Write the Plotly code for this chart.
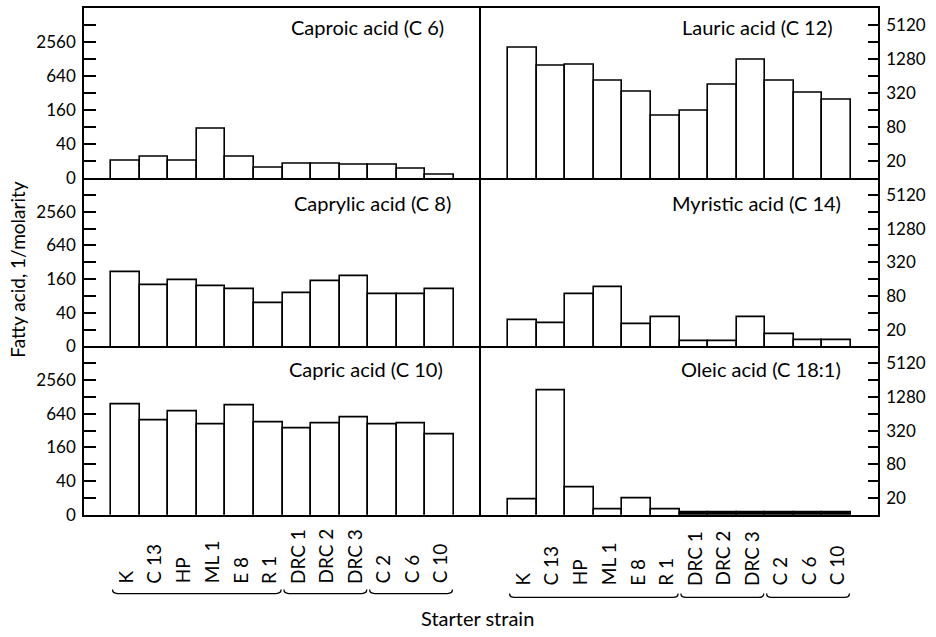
import math
import plotly.graph_objects as go

# Starter strains (bar categories, same order in every panel)
strains = ["K", "C 13", "HP", "ML 1", "E 8", "R 1",
           "DRC 1", "DRC 2", "DRC 3", "C 2", "C 6", "C 10"]

# Fatty acid levels, 1/molarity
caproic = [20, 24, 20, 73, 23.5, 15.5, 18, 18, 17.5, 17.5, 14.7, 11.6]
caprylic = [215, 123, 155, 120, 105, 59, 90, 147, 180, 87, 87, 108]
capric = [937, 480, 716, 420, 900, 450, 353, 437, 557, 408, 425, 274]
lauric = [1980, 985, 1000, 523, 329, 124, 155, 446, 1230, 523, 316, 246]
myristic = [30, 26, 85, 115, 25.5, 33, 12.7, 12.7, 34, 16.4, 13, 13]
oleic = [19, 1690, 31, 12.7, 19.2, 12.6, 10.8, 10.8, 10.8, 10.8, 10.8, 10.8]

panel_titles = ["Caproic acid (C 6)", "Lauric acid (C 12)",
                "Caprylic acid (C 8)", "Myristic acid (C 14)",
                "Capric acid (C 10)", "Oleic acid (C 18:1)"]
panel_values = [caproic, lauric, caprylic, myristic, capric, oleic]

# log-2 spaced tick grid; bottom of each axis (10) is labelled "0"
tick_vals = [10, 20, 40, 80, 160, 320, 640, 1280, 2560, 5120]
left_text = ["0", "", "40", "", "160", "", "640", "", "2560", ""]
right_text = ["", "20", "", "80", "", "320", "", "1280", "", "5120"]

# strain groups bracketed under the x axis
groups = [("K", "R 1"), ("DRC 1", "DRC 3"), ("C 2", "C 10")]

W, H = 936, 637
FONT = "Lato"
cols_px = [(84, 481), (481, 878)]
rows_px = [(8, 181), (181, 352), (352, 523)]
X_RANGE = [-1.45, 12.45]
Y_RANGE = [1, math.log10(10240)]
LW = 1.6
TRACE_LEVEL = 11  # bars below this are trace amounts, drawn solid
# title anchor (x fraction of panel, y fraction of panel) per panel
title_pos = [(0.912, 0.885), (0.892, 0.885),
             (0.93, 0.85), (0.911, 0.85),
             (0.909, 0.865), (0.911, 0.865)]


def fx(px):
    return px / W


def fy(px):
    return 1 - px / H


def sfx(i):
    return "" if i == 1 else str(i)


fig = go.Figure()
layout = dict(
    width=W, height=H,
    margin=dict(l=0, r=0, t=0, b=0),
    paper_bgcolor="white", plot_bgcolor="white",
    bargap=0, showlegend=False,
    font=dict(family=FONT, size=17, color="black"),
)
annotations = []
shapes = []

for i, (title, vals) in enumerate(zip(panel_titles, panel_values), start=1):
    r, c = (i - 1) // 2, (i - 1) % 2
    x0, x1 = cols_px[c]
    y0, y1 = rows_px[r]
    s = sfx(i)
    fills = ["black" if v < TRACE_LEVEL else "white" for v in vals]
    fig.add_trace(go.Bar(
        x=strains, y=vals, xaxis=f"x{s}", yaxis=f"y{s}",
        marker=dict(color=fills, line=dict(color="black", width=LW)),
        hoverinfo="x+y",
    ))
    # shared edges are drawn once: top frame only on the first row,
    # the centre divider only by the right-hand panels
    layout[f"xaxis{s}"] = dict(
        domain=[fx(x0), fx(x1)], anchor=f"y{s}", type="category",
        categoryorder="array", categoryarray=strains,
        range=X_RANGE, showticklabels=False, ticks="",
        showline=True, mirror=(r == 0), linecolor="black", linewidth=LW,
        showgrid=False, zeroline=False,
    )
    layout[f"yaxis{s}"] = dict(
        domain=[fy(y1), fy(y0)], anchor=f"x{s}", type="log",
        range=Y_RANGE, tickvals=tick_vals,
        ticktext=left_text if c == 0 else right_text,
        side="left" if c == 0 else "right",
        ticks="inside", ticklen=12 if c == 0 else 10, tickwidth=LW,
        tickcolor="black", ticklabelstandoff=3,
        showline=True, mirror=(c == 1), linecolor="black", linewidth=LW,
        showgrid=False, zeroline=False,
        tickfont=dict(family=FONT, size=17),
    )
    tx, ty = title_pos[i - 1]
    annotations.append(dict(
        text=title, xref=f"x{s} domain", yref=f"y{s} domain",
        x=tx, y=ty, xanchor="right", yanchor="middle", showarrow=False,
        font=dict(family=FONT, size=20),
    ))

# rotated strain labels and group brackets under the bottom panels
for i, col in ((5, 0), (6, 1)):
    x0, x1 = cols_px[col]
    label_bottom = 595 if col == 0 else 597
    brace_y = 603 if col == 0 else 607
    for name in strains:
        annotations.append(dict(
            text=name, xref=f"x{i}", yref="paper", x=name, y=fy(label_bottom),
            textangle=-90, xanchor="center", yanchor="bottom",
            showarrow=False, font=dict(family=FONT, size=19),
        ))

    def cat_px(pos):
        return x0 + (pos - X_RANGE[0]) / (X_RANGE[1] - X_RANGE[0]) * (x1 - x0)

    for g0, g1 in groups:
        a = cat_px(strains.index(g0) - 0.45)
        b = cat_px(strains.index(g1) + 0.45)
        hook = 4
        path = (f"M {fx(a)},{fy(brace_y - hook)} "
                f"Q {fx(a)},{fy(brace_y)} {fx(a + 5)},{fy(brace_y)} "
                f"L {fx(b - 5)},{fy(brace_y)} "
                f"Q {fx(b)},{fy(brace_y)} {fx(b)},{fy(brace_y - hook)}")
        shapes.append(dict(type="path", path=path, xref="paper", yref="paper",
                           line=dict(color="black", width=1.3)))

annotations.append(dict(
    text="Fatty acid, 1/molarity", xref="paper", yref="paper",
    x=fx(18), y=fy(274), textangle=-90, showarrow=False,
    xanchor="center", yanchor="middle", font=dict(family=FONT, size=19),
))
annotations.append(dict(
    text="Starter strain", xref="paper", yref="paper",
    x=fx(478), y=fy(628), showarrow=False,
    xanchor="center", yanchor="middle", font=dict(family=FONT, size=20),
))

layout["annotations"] = annotations
layout["shapes"] = shapes
fig.update_layout(**layout)
fig.write_html("out.html")
